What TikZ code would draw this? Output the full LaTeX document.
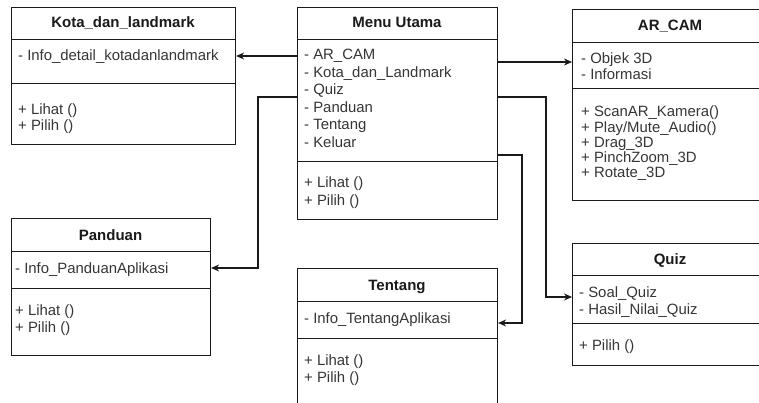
\documentclass[tikz,border=0pt]{standalone}
\usepackage{fontspec}
\setmainfont{Liberation Sans}
\usetikzlibrary{arrows.meta}
\definecolor{lc}{HTML}{1A1A1A}
\definecolor{tc}{HTML}{363636}
\definecolor{hc}{HTML}{1A1A1A}
\tikzset{
  comp/.style={draw=lc, line width=1.1pt, inner sep=0pt, anchor=north west},
  txt/.style={anchor=base west, inner sep=0pt, text=tc, font=\fontsize{14.9}{17}\selectfont},
  hdr/.style={anchor=base, inner sep=0pt, text=hc, font=\bfseries\fontsize{15}{17}\selectfont},
  arr/.style={draw=lc, line width=1.1pt, -{Stealth[length=8pt,width=7pt]}},
}
\begin{document}
\begin{tikzpicture}[x=1pt,y=-1pt]
\useasboundingbox (0,0) rectangle (759,403);
\fill[white] (0,0) rectangle (759,403);

% Kota_dan_landmark
\node[comp, minimum width=224pt, minimum height=32pt] (kotaH) at (11,7) {};
\node[comp, minimum width=224pt, minimum height=44pt] (kotaA) at (11,39) {};
\node[comp, minimum width=224pt, minimum height=61pt] (kotaM) at (11,83) {};
\node[hdr] (kotaT) at (123,28) {Kota\_dan\_landmark};
\node[txt] (kotaA1) at (18,61) {- Info\_detail\_kotadanlandmark};
\node[txt] (kotaM1) at (18,115) {+ Lihat ()};
\node[txt] (kotaM2) at (18,131) {+ Pilih ()};

% Menu Utama
\node[comp, minimum width=200pt, minimum height=32pt] (menuH) at (297,7) {};
\node[comp, minimum width=200pt, minimum height=122pt] (menuA) at (297,39) {};
\node[comp, minimum width=200pt, minimum height=58pt] (menuM) at (297,161) {};
\node[hdr] (menuT) at (397,28) {Menu Utama};
\foreach \t [count=\i] in {- AR\_CAM, - Kota\_dan\_Landmark, - Quiz, - Panduan, - Tentang, - Keluar}
  \node[txt] (menuA\i) at (304,42.5+17.5*\i) {\t};
\node[txt] (menuM1) at (304,188) {+ Lihat ()};
\node[txt] (menuM2) at (304,205) {+ Pilih ()};

% AR_CAM
\node[comp, minimum width=198pt, minimum height=33pt] (arH) at (572,9) {};
\node[comp, minimum width=198pt, minimum height=46pt] (arA) at (572,42) {};
\node[comp, minimum width=198pt, minimum height=112pt] (arM) at (572,88) {};
\node[hdr] (arT) at (670,31) {AR\_CAM};
\node[txt] (arA1) at (581,64) {- Objek 3D};
\node[txt] (arA2) at (581,80) {- Informasi};
\foreach \t [count=\i] in {+ ScanAR\_Kamera(), + Play/Mute\_Audio(), + Drag\_3D, + PinchZoom\_3D, + Rotate\_3D}
  \node[txt] (arM\i) at (581,101.8+15.2*\i) {\t};

% Panduan
\node[comp, minimum width=199pt, minimum height=33pt] (panH) at (11,218) {};
\node[comp, minimum width=199pt, minimum height=37pt] (panA) at (11,251) {};
\node[comp, minimum width=199pt, minimum height=67pt] (panM) at (11,288) {};
\node[hdr] (panT) at (110.5,240) {Panduan};
\node[txt] (panA1) at (15,273) {- Info\_PanduanAplikasi};
\node[txt] (panM1) at (15,315) {+ Lihat ()};
\node[txt] (panM2) at (15,332) {+ Pilih ()};

% Tentang
\node[comp, minimum width=200pt, minimum height=33pt] (tenH) at (297,268) {};
\node[comp, minimum width=200pt, minimum height=37pt] (tenA) at (297,301) {};
\node[comp, minimum width=200pt, minimum height=72pt] (tenM) at (297,338) {};
\node[hdr] (tenT) at (397,290) {Tentang};
\node[txt] (tenA1) at (304,323) {- Info\_TentangAplikasi};
\node[txt] (tenM1) at (304,365) {+ Lihat ()};
\node[txt] (tenM2) at (304,382) {+ Pilih ()};

% Quiz
\node[comp, minimum width=198pt, minimum height=32pt] (quizH) at (572,243) {};
\node[comp, minimum width=198pt, minimum height=48pt] (quizA) at (572,275) {};
\node[comp, minimum width=198pt, minimum height=42pt] (quizM) at (572,323) {};
\node[hdr] (quizT) at (670,264) {Quiz};
\node[txt] (quizA1) at (579,297) {- Soal\_Quiz};
\node[txt] (quizA2) at (579,314) {- Hasil\_Nilai\_Quiz};
\node[txt] (quizM1) at (579,350) {+ Pilih ()};

% connectors
\draw[arr] (menuA.west |- 0,56) -- (kotaA.east |- 0,56);
\draw[arr] (menuA.west |- 0,97) -| (258,268) -- (panA.east |- 0,268);
\draw[arr] (menuA.east |- 0,62) -- (arA.west |- 0,62);
\draw[arr] (menuA.east |- 0,97) -| (546,297) -- (quizA.west |- 0,297);
\draw[arr] (menuA.east |- 0,155) -| (522,323) -- (tenA.east |- 0,323);
\end{tikzpicture}
\end{document}
